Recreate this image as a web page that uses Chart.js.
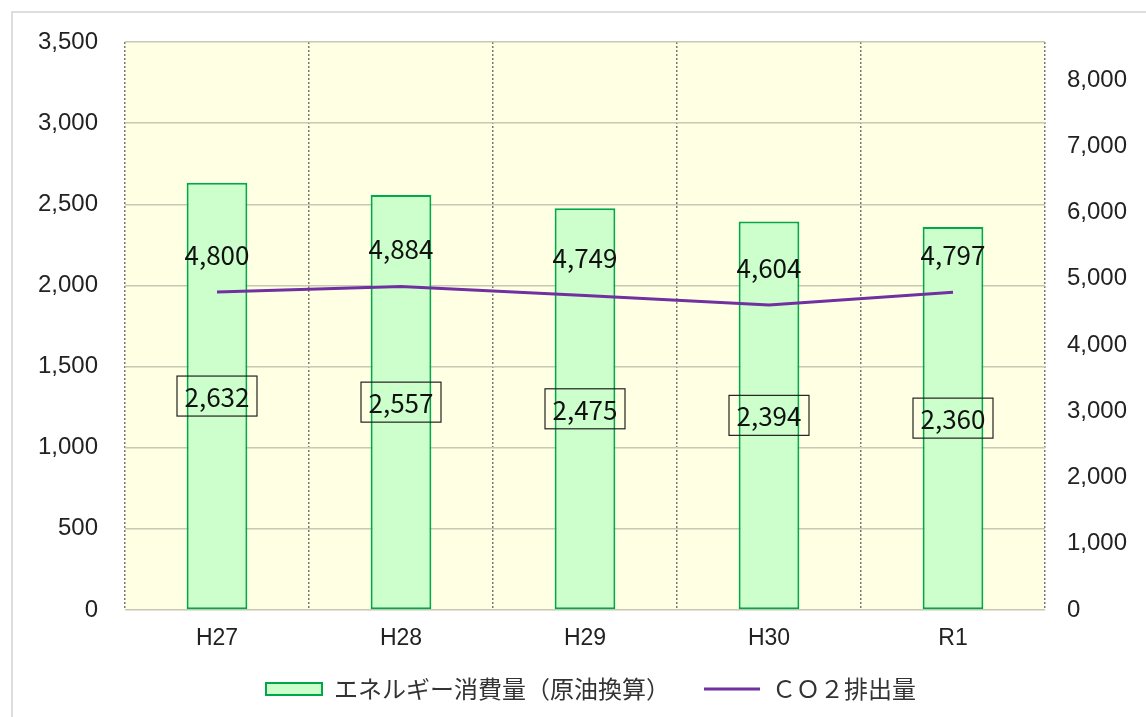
<!DOCTYPE html>
<html lang="ja">
<head>
<meta charset="utf-8">
<title>エネルギー消費量とCO2排出量</title>
<script src="https://cdn.jsdelivr.net/npm/chart.js@4/dist/chart.umd.min.js"></script>
<style>
  html, body { margin: 0; padding: 0; background: #fff; }
  #wrap { position: relative; width: 1146px; height: 717px; }
</style>
</head>
<body>
<div id="wrap"><canvas id="energyChart" width="1146" height="717"></canvas></div>
<script>
// Data
const years = ['H27', 'H28', 'H29', 'H30', 'R1'];
const energyUse = [2632, 2557, 2475, 2394, 2360];   // エネルギー消費量（原油換算）
const co2Output = [4800, 4884, 4749, 4604, 4797];   // ＣＯ２排出量
const leftTicks = [0, 500, 1000, 1500, 2000, 2500, 3000, 3500];
const rightTicks = [0, 1000, 2000, 3000, 4000, 5000, 6000, 7000, 8000];

const numFmt = v => Number(v).toLocaleString('en-US');
const labelFont = '"Noto Sans CJK JP", "Noto Sans", sans-serif';
const tickFont = '"Liberation Sans", Arial, sans-serif';

// Plot background + the thin frame on the left/top
const backdrop = {
  id: 'backdrop',
  beforeDraw(chart) {
    const { ctx, chartArea: a } = chart;
    ctx.save();
    ctx.fillStyle = '#ffffe3';
    ctx.fillRect(a.left, a.top, a.right - a.left, a.bottom - a.top);
    ctx.strokeStyle = '#dddddd';
    ctx.lineWidth = 2;
    ctx.beginPath();
    ctx.moveTo(12, chart.height);
    ctx.lineTo(12, 12);
    ctx.lineTo(chart.width, 12);
    ctx.stroke();
    ctx.restore();
  }
};

// Value labels: boxed in the middle of the bars, plain above the line
const valueLabels = {
  id: 'valueLabels',
  afterDatasetsDraw(chart) {
    const ctx = chart.ctx;
    ctx.save();
    ctx.font = '26px ' + labelFont;
    ctx.fillStyle = '#111';
    ctx.textAlign = 'center';
    ctx.textBaseline = 'middle';

    const bars = chart.getDatasetMeta(0);
    bars.data.forEach((el, i) => {
      const cy = (el.y + el.base) / 2;
      ctx.strokeStyle = '#222';
      ctx.lineWidth = 1.2;
      ctx.strokeRect(el.x - 40, cy - 20, 80, 40);
      ctx.fillText(numFmt(energyUse[i]), el.x, cy + 1);
    });

    const line = chart.getDatasetMeta(1);
    line.data.forEach((el, i) => {
      ctx.fillText(numFmt(co2Output[i]), el.x, el.y - 37);
    });
    ctx.restore();
  }
};

const ctx = document.getElementById('energyChart');
new Chart(ctx, {
  type: 'bar',
  data: {
    labels: years,
    datasets: [
      {
        label: 'エネルギー消費量（原油換算）',
        data: energyUse,
        yAxisID: 'y',
        backgroundColor: '#ccffcc',
        borderColor: '#00a84a',
        borderWidth: 2,
        borderSkipped: false,
        barPercentage: 0.33,
        categoryPercentage: 1,
        pointStyle: 'rect',
        order: 2
      },
      {
        type: 'line',
        label: 'ＣＯ２排出量',
        data: co2Output,
        yAxisID: 'y1',
        borderColor: '#7030a0',
        backgroundColor: '#7030a0',
        borderWidth: 3,
        pointRadius: 0,
        pointStyle: 'line',
        tension: 0,
        order: 1
      }
    ]
  },
  options: {
    responsive: false,
    animation: false,
    devicePixelRatio: 1,
    layout: { padding: { top: 42, left: 36, right: 0, bottom: 6 } },
    scales: {
      x: {
        offset: true,
        grid: {
          offset: true,
          color: '#777',
          lineWidth: 1.5,
          drawTicks: false
        },
        border: { display: false, dash: [2, 2] },
        ticks: {
          color: '#222',
          padding: 15,
          font: { family: tickFont, size: 23 }
        },
        afterFit(scale) { scale.height = 45; }
      },
      y: {
        position: 'left',
        min: 0,
        max: 3500,
        afterBuildTicks(scale) { scale.ticks = leftTicks.map(v => ({ value: v })); },
        ticks: {
          color: '#222',
          padding: 27,
          font: { family: tickFont, size: 24 },
          callback: v => numFmt(v)
        },
        grid: { color: '#c8c8b4', lineWidth: 1.5, drawTicks: false },
        border: { display: false },
        afterFit(scale) { scale.width = 89; }
      },
      y1: {
        position: 'right',
        min: 0,
        max: 8575,
        afterBuildTicks(scale) { scale.ticks = rightTicks.map(v => ({ value: v })); },
        ticks: {
          color: '#222',
          padding: 22,
          font: { family: tickFont, size: 24 },
          callback: v => numFmt(v)
        },
        grid: { display: false, drawTicks: false },
        border: { display: false },
        afterFit(scale) { scale.width = 101; }
      }
    },
    plugins: {
      legend: {
        position: 'bottom',
        labels: {
          usePointStyle: true,
          pointStyleWidth: 56,
          boxHeight: 12,
          padding: 22,
          color: '#333',
          font: { family: labelFont, size: 24 },
          sort: (a, b) => a.datasetIndex - b.datasetIndex,
          generateLabels(chart) {
            const items = Chart.defaults.plugins.legend.labels.generateLabels(chart);
            // a little more room between the two entries
            items.forEach(item => { if (item.datasetIndex === 0) item.text += '\u3000'; });
            return items;
          }
        }
      },
      tooltip: { enabled: false }
    }
  },
  plugins: [backdrop, valueLabels]
});
</script>
</body>
</html>
